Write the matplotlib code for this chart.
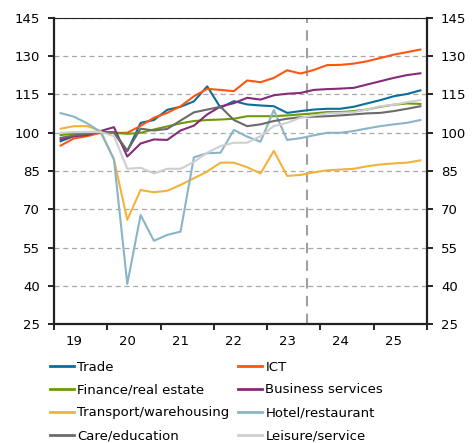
import matplotlib
matplotlib.use("Agg")
import matplotlib.pyplot as plt
from matplotlib.lines import Line2D

# quarterly index, 2019Q1 .. 2025Q4
years = ["19", "20", "21", "22", "23", "24", "25"]

trade = [96.7, 98.7, 99.3, 100.3, 100.0, 92.8, 103.9, 105.0, 109.0, 110.2, 112.3, 118.2,
         109.8, 112.4, 111.1, 110.7, 110.4, 107.8, 108.5, 109.1, 109.4, 109.4, 110.2, 111.5,
         112.8, 114.3, 115.2, 116.6]
ict = [95.0, 97.8, 98.7, 100.0, 100.0, 100.0, 102.7, 105.9, 107.8, 110.4, 114.3, 117.2,
       116.8, 116.3, 120.5, 119.8, 121.5, 124.5, 123.2, 124.6, 126.5, 126.6, 127.1, 128.0,
       129.3, 130.6, 131.6, 132.6]
finance = [99.1, 99.7, 100.3, 100.4, 100.0, 99.6, 100.0, 101.3, 102.5, 103.7, 104.6, 105.0,
           105.2, 105.5, 106.5, 106.5, 106.5, 106.8, 107.2, 107.6, 108.1, 108.1, 108.5, 109.1,
           110.2, 111.0, 111.5, 111.3]
business = [97.4, 98.7, 99.1, 100.7, 102.2, 90.7, 95.8, 97.4, 97.2, 100.9, 102.8, 107.2,
            110.3, 111.6, 113.7, 113.0, 114.7, 115.3, 115.6, 116.8, 117.1, 117.3, 117.6, 118.9,
            120.2, 121.5, 122.6, 123.3]
transport = [101.6, 102.6, 102.6, 100.7, 89.6, 65.9, 77.6, 76.7, 77.3, 79.6, 82.2, 84.8,
             88.3, 88.3, 86.5, 84.1, 92.9, 83.1, 83.5, 84.5, 85.3, 85.6, 85.9, 86.9,
             87.6, 88.0, 88.3, 89.2]
hotel = [107.7, 106.3, 103.7, 100.3, 89.5, 40.8, 67.8, 57.7, 60.0, 61.3, 90.4, 92.0,
         92.2, 101.1, 98.5, 96.5, 108.9, 97.2, 97.9, 99.0, 100.0, 100.0, 100.7, 101.7,
         102.6, 103.3, 103.9, 105.0]
care = [98.0, 99.0, 99.6, 100.3, 100.3, 93.0, 101.6, 100.9, 101.5, 104.8, 108.0, 109.1,
        110.2, 105.0, 102.6, 103.3, 104.6, 105.5, 106.1, 106.3, 106.5, 106.8, 107.2, 107.6,
        107.8, 108.5, 109.4, 110.4]
leisure = [100.0, 100.3, 100.3, 100.3, 98.7, 85.9, 86.3, 84.1, 85.9, 85.9, 88.6, 92.2,
           94.8, 96.1, 96.1, 98.7, 102.6, 103.9, 105.9, 106.8, 107.6, 107.8, 108.1, 109.1,
           110.4, 111.0, 112.0, 112.8]

series = [
    ("Trade", trade, "#0A6F9C"),
    ("ICT", ict, "#FF5511"),
    ("Finance/real estate", finance, "#6F9A08"),
    ("Business services", business, "#862A7A"),
    ("Transport/warehousing", transport, "#F5B23A"),
    ("Hotel/restaurant", hotel, "#8AB4C7"),
    ("Care/education", care, "#6B6B6B"),
    ("Leisure/service", leisure, "#CFCFCF"),
]
forecast_start = 18.5

plt.rcParams['font.family'] = ['DejaVu Sans']
fig = plt.figure(figsize=(4.75, 4.43), dpi=100)
ax = fig.add_axes([0.1137, 0.268, 0.7853, 0.6916])

x = list(range(len(trade)))
for name, vals, col in series:
    ax.plot(x, vals, color=col, linewidth=1.5, label=name, zorder=3)

ax.axvline(forecast_start, color="#A0A0A0", linewidth=1.5, linestyle=(0, (5, 3.5)), zorder=2)

ax.set_ylim(25, 145)
ax.set_xlim(-0.5, len(trade) - 0.5)
ax.set_yticks(range(25, 146, 15))
ax.yaxis.grid(True, color="#A8A8A8", linestyle=(0, (4, 3)), linewidth=0.9)
ax.set_axisbelow(True)

ax.set_xticks([i * 4 - 0.5 for i in range(len(years) + 1)])
ax.set_xticklabels([])
ax.set_xticks([i * 4 + 1 for i in range(len(years))], minor=True)
ax.set_xticklabels(years, minor=True)
ax.tick_params(axis="x", which="minor", length=0, pad=8, labelsize=9.5)
ax.tick_params(axis="x", which="major", length=4, width=1.2, direction="out")
ax.tick_params(axis="y", which="both", length=4, width=1.2, labelsize=9.5, pad=6,
               left=True, right=True, labelleft=True, labelright=True)

for s in ["left", "right", "bottom"]:
    ax.spines[s].set_linewidth(1.6)
    ax.spines[s].set_color("#222222")
ax.spines["top"].set_linewidth(0.8)
ax.spines["top"].set_color("#222222")

handles = {name: Line2D([], [], color=col, linewidth=2) for name, _, col in series}
order = ["Trade", "Finance/real estate", "Transport/warehousing", "Care/education",
         "ICT", "Business services", "Hotel/restaurant", "Leisure/service"]
fig.legend([handles[n] for n in order], order, ncol=2, loc="upper left",
           bbox_to_anchor=(0.105, 0.186), frameon=False, borderaxespad=0, borderpad=0,
           fontsize=9.5, handlelength=1.8, handletextpad=0.25, columnspacing=0.7,
           labelspacing=0.75)

fig.savefig("out.png", dpi=100)
